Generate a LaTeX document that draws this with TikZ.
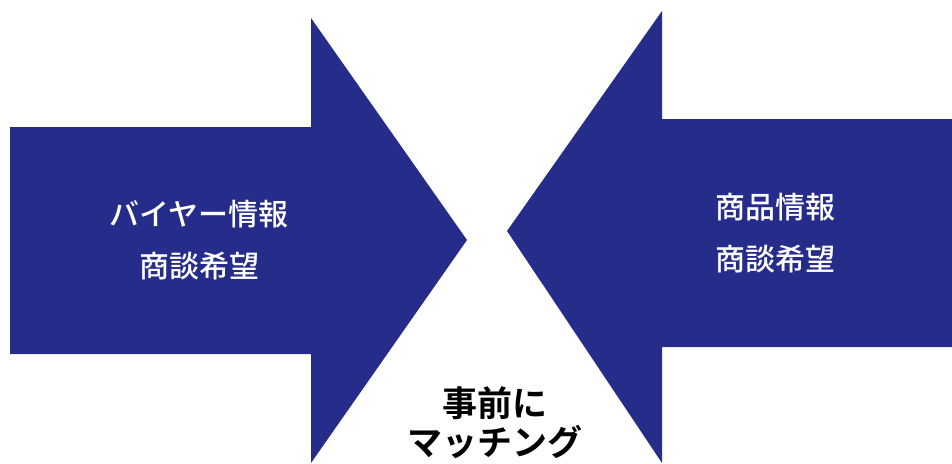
\documentclass[tikz,border=0pt]{standalone}
\usepackage{fontspec}
\usepackage{xcolor}
\setmainfont{Noto Sans CJK JP}
\newfontfamily\jpmedium{Noto Sans CJK JP Medium}
\newfontfamily\jpbold{Noto Sans CJK JP Bold}
\definecolor{navy}{RGB}{38,44,138}
\tikzset{
  infotext/.style={text=white,align=center,font=\jpmedium\fontsize{30}{52}\selectfont},
  matchtext/.style={text=black,align=center,font=\jpbold\fontsize{35}{39}\selectfont}
}
\begin{document}
\begin{tikzpicture}[x=1pt,y=-1pt]
    \useasboundingbox (0,0) rectangle (952,463);
    % left arrow (buyer side)
    \fill[navy] (10,127)--(311,127)--(311,18)--(467,240)--(311,463)--(311,354)--(10,354)--cycle;
    % right arrow (product side)
    \fill[navy] (952,119)--(662,119)--(662,11)--(507,231)--(662,463)--(662,347)--(952,347)--cycle;
    \node[infotext] (buyer) at (199,240) {バイヤー情報\\商談希望};
    \node[infotext] (product) at (775,233) {商品情報\\商談希望};
    \node[matchtext] (match) at (495,423) {事前に\\マッチング};
\end{tikzpicture}
\end{document}
